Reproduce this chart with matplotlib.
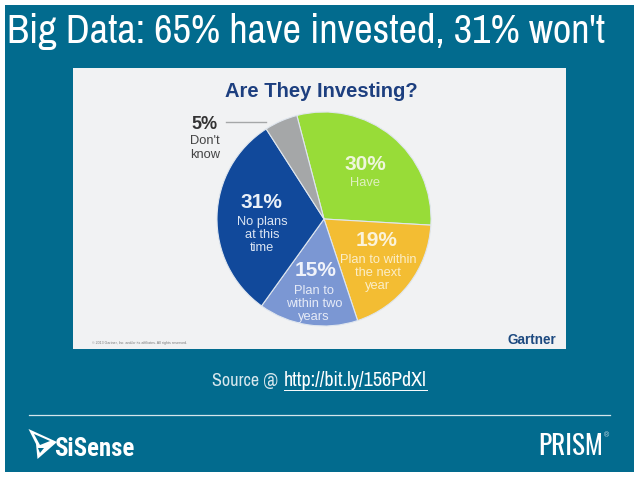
import matplotlib
matplotlib.use("Agg")
import matplotlib.pyplot as plt
from matplotlib.patches import Rectangle, Polygon

# pie data, clockwise from the green slice
shares = [30, 19, 15, 31, 5]
pct_labels = ["30%", "19%", "15%", "31%", "5%"]
names = ["Have", "Plan to within\nthe next\nyear", "Plan to\nwithin two\nyears", "No plans\nat this\ntime", "Don't\nknow"]
colors = ["#98dc38", "#f3bd33", "#7b97d3", "#11499b", "#a5a7a8"]

title = "Big Data: 65% have invested, 31% won't"
chart_title = "Are They Investing?"
teal = "#026b8e"
narrow = ["Archivo Narrow", "Roboto", "DejaVu Sans"]
sans = ["Liberation Sans", "DejaVu Sans"]

W, H = 638, 478
fig = plt.figure(figsize=(W / 100, H / 100), dpi=100, facecolor="white")
renderer = fig.canvas.get_renderer()


def fit_width(t, width):
    # scale the font so the text takes the wanted pixel width
    t.set_fontsize(t.get_fontsize() * width / t.get_window_extent(renderer).width)


# page layer in pixel coordinates
bg = fig.add_axes([0, 0, 1, 1])
bg.set_xlim(0, W)
bg.set_ylim(H, 0)
bg.axis("off")
bg.add_patch(Rectangle((5, 5), 629, 467, color=teal, lw=0))
bg.add_patch(Rectangle((72.5, 68), 493.5, 281, color="#f1f2f3", lw=0))

# pie
cx, cy, r = 324, 219, 107
pie_ax = fig.add_axes([(cx - r) / W, 1 - (cy + r) / H, 2 * r / W, 2 * r / H])
pie_ax.pie(shares, colors=colors, startangle=104.7, counterclock=False, radius=1,
           wedgeprops=dict(edgecolor="#dfe6ee", linewidth=0.8))
pie_ax.set_xlim(-1, 1)
pie_ax.set_ylim(-1, 1)
pie_ax.axis("off")

# overlay for text on top of the pie
top = fig.add_axes([0, 0, 1, 1])
top.set_xlim(0, W)
top.set_ylim(H, 0)
top.axis("off")
top.patch.set_alpha(0)

t = top.text(7, 43, title, color="white", fontsize=28, family=narrow, va="baseline", ha="left")
fit_width(t, 598)
t = top.text(321, 91, chart_title, color="#1d3f7f", fontsize=14.5, fontweight="bold",
             family=sans, ha="center", va="center")
fit_width(t, 193)

pct_pos = [(365, 165), (377, 240), (316, 271), (261, 202), (205, 124)]
name_pos = [(365, 183), (378, 273), (314, 304), (262, 235), (205, 148)]
pct_size = [15, 15, 15, 15, 13]
pct_color = ["#eef6dc", "#fbf3da", "#f0f3fa", "#eaf0f8", "#333333"]
name_color = ["#dff0c0", "#fbeec8", "#e6ebf7", "#dbe5f3", "#444444"]
for i in range(len(shares)):
    top.text(pct_pos[i][0], pct_pos[i][1], pct_labels[i], color=pct_color[i], fontsize=pct_size[i],
             fontweight="bold", family=sans, ha="center", va="center")
    top.text(name_pos[i][0], name_pos[i][1], names[i], color=name_color[i], fontsize=9.3,
             family=sans, ha="center", va="center", linespacing=1.15)

top.plot([226, 266], [122, 122], color="#a5a7a8", lw=1)
t = top.text(556, 340, "Gartner", color="#1d4a80", fontsize=10, fontweight="bold", family=sans,
             ha="right", va="center")
fit_width(t, 49)
top.text(92, 343, "© 2013 Gartner, Inc. and/or its affiliates. All rights reserved.", color="#777777",
         fontsize=2.6, family=sans, ha="left", va="center")

# source line
t = top.text(212, 386, "Source @", color="#d8e8ee", fontsize=12, family=narrow, ha="left", va="baseline")
fit_width(t, 66)
t = top.text(284, 386, "http://bit.ly/156PdXl", color="white", fontsize=12, family=narrow, ha="left", va="baseline")
fit_width(t, 143)
top.plot([284, 427], [389.5, 389.5], color="white", lw=0.7)

# footer
top.plot([29, 610], [415, 415], color="#d5e6ec", lw=0.9)
top.add_patch(Polygon([(28.5, 429), (57, 442), (37.5, 459), (36, 444)],
                      closed=True, facecolor="white", edgecolor="none"))
top.add_patch(Polygon([(34, 434), (50, 441), (40, 445)], closed=True, facecolor=teal, edgecolor="none"))
top.add_patch(Polygon([(38, 448), (40, 453), (44, 448)], closed=True, facecolor=teal, edgecolor="none"))
t = top.text(54, 456, "SiSense", color="white", fontsize=16, fontweight="bold",
             family=["Roboto Condensed", "Roboto", "DejaVu Sans"], ha="left", va="baseline")
fit_width(t, 80)
t = top.text(538, 455, "PRISM", color="white", fontsize=17, fontweight="bold",
             family=["Oswald", "Roboto", "DejaVu Sans"], ha="left", va="baseline")
fit_width(t, 65)
top.text(604, 436, "®", color="#cfe0e7", fontsize=5, family=sans, ha="left", va="center")

fig.savefig("out.png", dpi=100)
